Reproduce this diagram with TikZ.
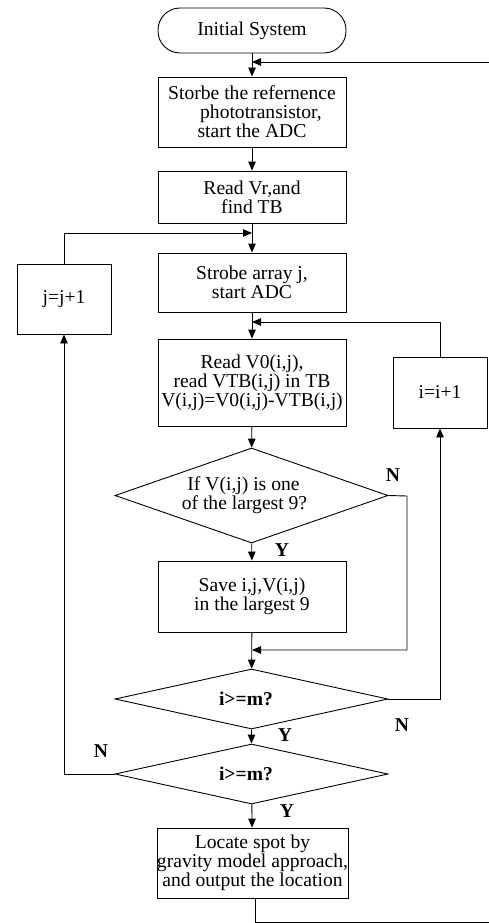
\documentclass[tikz,border=0pt]{standalone}
\usepackage{fontspec}
\setmainfont{Liberation Serif}
\usetikzlibrary{shapes.geometric,arrows.meta}
\newcommand{\fsz}{\fontsize{19.6}{19}\selectfont}
\tikzset{
  stepbox/.style={draw, rectangle, inner sep=0pt, align=center, font=\fsz, minimum width=188pt},
  smallbox/.style={draw, rectangle, inner sep=0pt, align=center, font=\fsz, minimum width=94pt},
  terminal/.style={draw, rectangle, rounded corners=22pt, inner sep=0pt, font=\fsz, minimum width=188pt, minimum height=45pt},
  decision/.style={draw, diamond, inner sep=0pt, align=center, font=\fsz, minimum width=273pt},
  yn/.style={font=\fsz\bfseries, inner sep=0pt},
  arr/.style={-{Triangle[length=9pt,width=7.5pt]}}
}
\begin{document}
\begin{tikzpicture}[x=1pt,y=-1pt, line width=0.9pt]
\useasboundingbox (0,0) rectangle (489,923);

\node[terminal] (start) at (252,30.5) {Initial System};
\node[stepbox, minimum height=70pt] (b1) at (252,112) {Storbe the refernence\\\hspace*{18pt}phototransistor,\\start the ADC};
\node[stepbox, minimum height=52pt] (b2) at (252,197) {Read Vr,and\\find TB};
\node[stepbox, minimum height=59pt] (b3) at (252,282.5) {Strobe array j,\\start ADC};
\node[stepbox, minimum height=87pt] (b4) at (252,382.5) {Read V0(i,j),\\read VTB(i,j) in TB\\V(i,j)=V0(i,j)-VTB(i,j)};
\node[decision, minimum height=95pt, shape aspect=2.87] (d1) at (251.5,495.5) {If V(i,j) is one\hspace*{16pt}\\of the largest 9?\hspace*{14pt}};
\node[stepbox, minimum height=71pt] (b5) at (252,596.5) {Save i,j,V(i,j)\\in the largest 9};
\node[decision, minimum height=60pt, shape aspect=4.55] (d2) at (251.5,699) {\textbf{i>=m?}\hspace*{11pt}};
\node[decision, minimum height=60pt, shape aspect=4.55] (d3) at (251.5,774) {\textbf{i>=m?}\hspace*{11pt}};
\node[stepbox, minimum width=189pt, minimum height=70pt] (b6) at (252.5,863) {Locate spot by\\gravity model approach,\\and output the location};
\node[smallbox, minimum height=70pt] (jbox) at (64,299) {j=j+1};
\node[smallbox, minimum height=71pt] (ibox) at (440,392.5) {i=i+1};

\node[yn] (n1) at (393,475) {N};
\node[yn] (y1) at (282,550) {Y};
\node[yn] (n2) at (402,725) {N};
\node[yn] (y2) at (285,735) {Y};
\node[yn] (n3) at (101,751) {N};
\node[yn] (y3) at (287,811) {Y};

\coordinate (rtop) at (489,62);
\coordinate (jtop) at (252,62);
\coordinate (jj) at (252,233);
\coordinate (ji) at (252,322);
\coordinate (jn) at (252,650);
\coordinate (nturn) at (407,496);
\coordinate (rbot) at (489,922);
\coordinate (b6out) at (255,898);

\draw[arr] (start) -- (b1);
\draw[arr] (rtop) -- (jtop);
\draw[arr] (b1) -- (b2);
\draw[arr] (b2) -- (b3);
\draw[arr] (jbox.north) |- (jj);
\draw[arr] (b3) -- (b4);
\draw[arr] (ibox.north) |- (ji);
\draw[arr] (b4) -- (d1);
\draw[arr] (d1) -- (b5);
\draw[arr] (d1.east) -- (nturn) |- (jn);
\draw[arr] (b5) -- (d2);
\draw[arr] (d2.east) -| (ibox.south);
\draw[arr] (d2) -- (d3);
\draw[arr] (d3.west) -| (jbox.south);
\draw[arr] (d3) -- (b6);
\draw (b6out) |- (rbot);
\end{tikzpicture}
\end{document}
